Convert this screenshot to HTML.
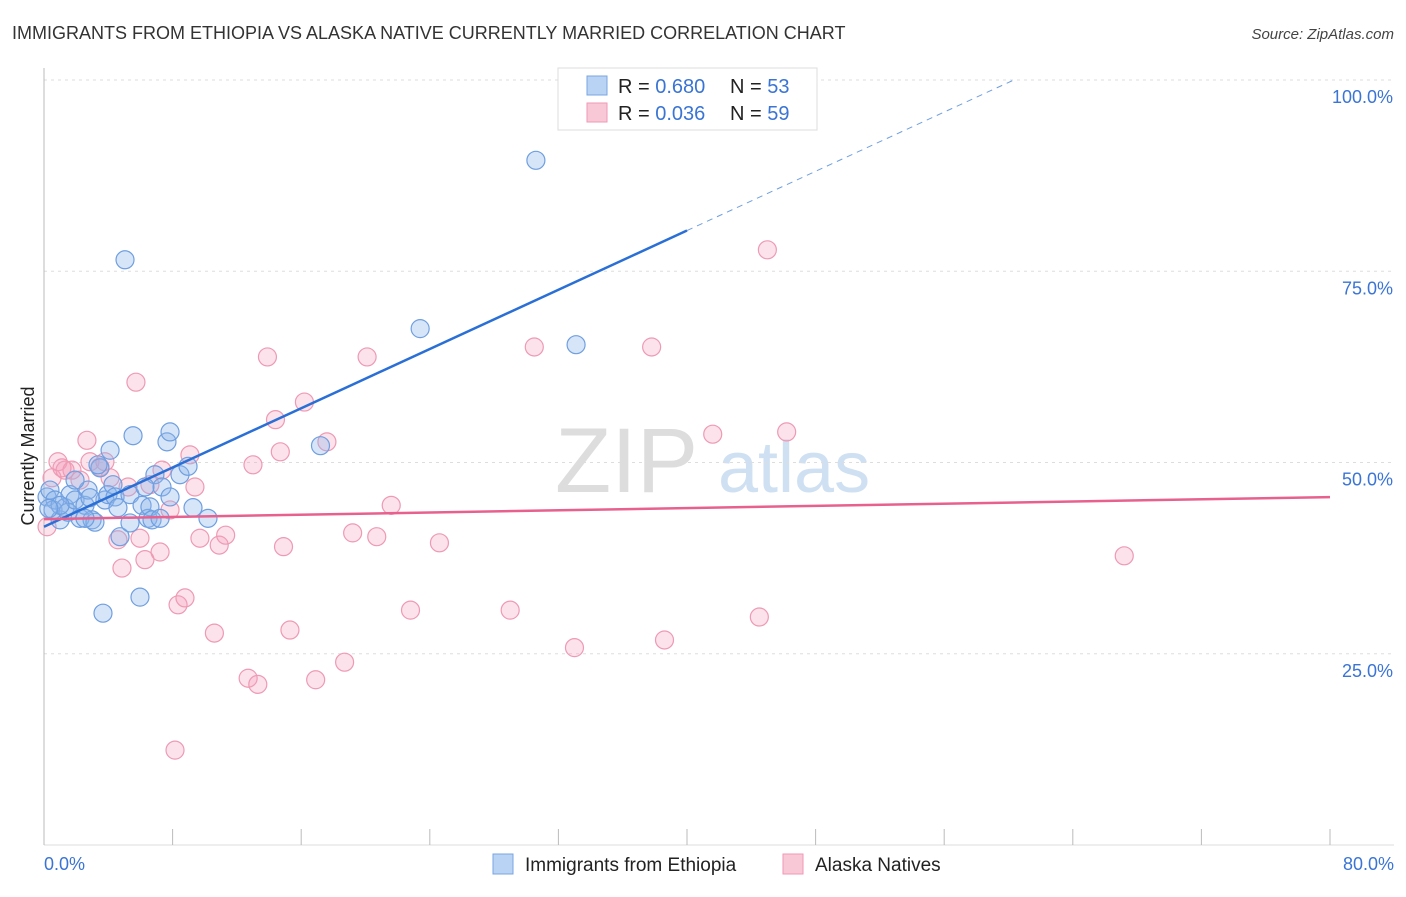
<!DOCTYPE html>
<html><head><meta charset="utf-8"><style>
body{margin:0;background:#fff;font-family:"Liberation Sans",sans-serif;}
svg text{font-family:"Liberation Sans",sans-serif;}
</style></head><body>
<svg id="chart" width="1406" height="892">
<text x="12" y="39" font-size="18" fill="#333">IMMIGRANTS FROM ETHIOPIA VS ALASKA NATIVE CURRENTLY MARRIED CORRELATION CHART</text>
<text x="1394" y="39" font-size="15" fill="#444" text-anchor="end" font-style="italic">Source: ZipAtlas.com</text>
<text x="34" y="456" font-size="18" fill="#222" text-anchor="middle" transform="rotate(-90 34 456)">Currently Married</text>
<g><text x="555" y="492" font-size="92" fill="#ddd" font-family="Liberation Serif">ZIP</text><text x="718" y="492" font-size="72" fill="#cfe0f3">atlas</text></g>
<g id="grid"></g><g id="axes"></g><g id="pts"></g><g id="lines"></g>
<g>
<rect x="558" y="68" width="259" height="62" fill="#fff" stroke="#ddd"/>
<rect x="587" y="76" width="20" height="19" fill="#b9d3f5" stroke="#7aa5e0"/>
<text x="618" y="93" font-size="20" fill="#222">R = <tspan fill="#3a74d4">0.680</tspan></text>
<text x="730" y="93" font-size="20" fill="#222">N = <tspan fill="#3a74d4">53</tspan></text>
<rect x="587" y="103" width="20" height="19" fill="#f9c8d7" stroke="#ee9ab4"/>
<text x="618" y="120" font-size="20" fill="#222">R = <tspan fill="#3a74d4">0.036</tspan></text>
<text x="730" y="120" font-size="20" fill="#222">N = <tspan fill="#3a74d4">59</tspan></text>
</g>
<g>
<rect x="493" y="854" width="20" height="20" fill="#b9d3f5" stroke="#7aa5e0"/>
<text x="525" y="871" font-size="19" fill="#222">Immigrants from Ethiopia</text>
<rect x="783" y="854" width="20" height="20" fill="#f9c8d7" stroke="#ee9ab4"/>
<text x="815" y="871" font-size="19" fill="#222">Alaska Natives</text>
</g>
</svg>
<script>
const yTicks=[25,50,75,100];
const yTickLabels=["25.0%","50.0%","75.0%","100.0%"];
const xTickCount=10;
const xEndLabels=["0.0%","80.0%"];
const blueX=[.19,.37,.68,.56,1.0,1.31,1.62,1.49,1.93,2.24,2.55,2.74,2.99,3.17,3.48,3.36,3.79,3.98,4.11,4.29,4.42,4.6,4.73,5.04,5.35,5.54,5.35,5.97,6.1,6.47,6.59,6.72,6.9,7.22,7.34,7.65,7.84,7.84,8.46,8.96,9.27,10.2,3.67,17.2,23.4,30.6,33.1,1.93,1.0,2.86,6.28,2.55,0.3];
const blueY=[45.5,46.4,45.1,43.8,42.5,44.1,45.8,43.5,45.1,42.7,44.4,46.4,42.5,42.2,49.3,49.7,45.1,45.8,51.6,47.1,45.5,44.1,40.3,76.5,42.1,53.5,45.8,32.4,44.4,42.7,44.2,42.5,48.4,42.7,46.8,52.7,54.0,45.5,48.4,49.5,44.1,42.7,30.3,52.2,67.5,89.5,65.4,47.7,44.4,45.4,46.8,42.7,44.0];
const pinkX=[.19,.5,.87,1.31,1.74,2.24,2.67,2.86,3.48,3.79,4.11,4.6,4.85,5.23,5.72,5.97,6.28,6.59,7.22,7.34,7.84,8.15,8.34,8.77,9.08,9.39,9.7,10.6,10.9,11.3,12.7,13.0,13.3,13.9,14.4,14.7,14.9,15.3,16.2,16.9,17.6,18.7,19.2,20.1,20.7,21.6,22.8,24.6,29.0,30.5,33.0,37.8,38.6,41.6,44.5,45.0,46.2,67.2,1.12];
const pinkY=[41.6,48.0,50.1,49.0,49.0,47.7,52.9,50.1,49.4,50.1,48.0,39.9,36.2,46.8,60.5,40.1,37.3,47.1,38.3,49.0,43.8,12.4,31.4,32.3,51.0,46.8,40.1,27.7,39.2,40.5,21.8,49.7,21.0,63.8,55.6,51.4,39.0,28.1,57.9,21.6,52.7,23.9,40.8,63.8,40.3,44.4,30.7,39.5,30.7,65.1,25.8,65.1,26.8,53.7,29.8,77.8,54.0,37.8,49.3];
const blueTrend=[41.6,0.968];
const pinkTrend=[42.6,0.036];
const NS="http://www.w3.org/2000/svg";
const X=v=>44+v*(1286/80), Y=v=>845-v*7.65;
function mk(p,t,a){const e=document.createElementNS(NS,t);for(const k in a)e.setAttribute(k,a[k]);p.appendChild(e);return e;}
const grid=document.getElementById('grid'),axes=document.getElementById('axes'),pts=document.getElementById('pts'),lines=document.getElementById('lines');
yTicks.forEach((t,i)=>{
 const l=mk(grid,'line',{x1:44,x2:1394,y1:Y(t),y2:Y(t),stroke:'#ddd','stroke-dasharray':'3,4'});
 
 
 const tx=mk(axes,'text',{x:1393,y:Y(t)+23,'font-size':18,fill:'#3a74d4','text-anchor':'end'});tx.textContent=yTickLabels[i];
 
 
});
const ya=mk(axes,'line',{x1:44,x2:44,y1:68,y2:845,stroke:'#bbb'});


const xa=mk(axes,'line',{x1:44,x2:1394,y1:845,y2:845,stroke:'#ddd'});


for(let i=0;i<=xTickCount;i++){const v=i*8;const t=mk(axes,'line',{x1:X(v),x2:X(v),y1:829,y2:845,stroke:'#bbb'});
 
 }
[[0,'start',44],[80,'end',1394]].forEach((d,i)=>{const tx=mk(axes,'text',{x:d[2],y:870,'font-size':18,fill:'#3a74d4','text-anchor':d[1]});tx.textContent=xEndLabels[i];
 
 });
pinkX.forEach((x,i)=>{const c=mk(pts,'circle',{cx:X(x),cy:Y(pinkY[i]),r:9,fill:'rgba(244,160,188,0.3)',stroke:'#ee9ab4','stroke-width':1.2});
 
 });
blueX.forEach((x,i)=>{const c=mk(pts,'circle',{cx:X(x),cy:Y(blueY[i]),r:9,fill:'rgba(140,180,235,0.35)',stroke:'#6f9fe0','stroke-width':1.2});
 
 });
const bEnd=(100-blueTrend[0])/blueTrend[1];
const b1=mk(lines,'line',{x1:X(0),y1:Y(blueTrend[0]),x2:X(40),y2:Y(blueTrend[0]+40*blueTrend[1]),stroke:'#2a6fd6','stroke-width':2.5});


const b2=mk(lines,'line',{x1:X(40),y1:Y(blueTrend[0]+40*blueTrend[1]),x2:X(bEnd),y2:Y(100),stroke:'#6f9fe0','stroke-width':1,'stroke-dasharray':'6,5'});


const p1=mk(lines,'line',{x1:X(0),y1:Y(pinkTrend[0]),x2:X(80),y2:Y(pinkTrend[0]+80*pinkTrend[1]),stroke:'#e8608e','stroke-width':2.5});


</script>
</body></html>
